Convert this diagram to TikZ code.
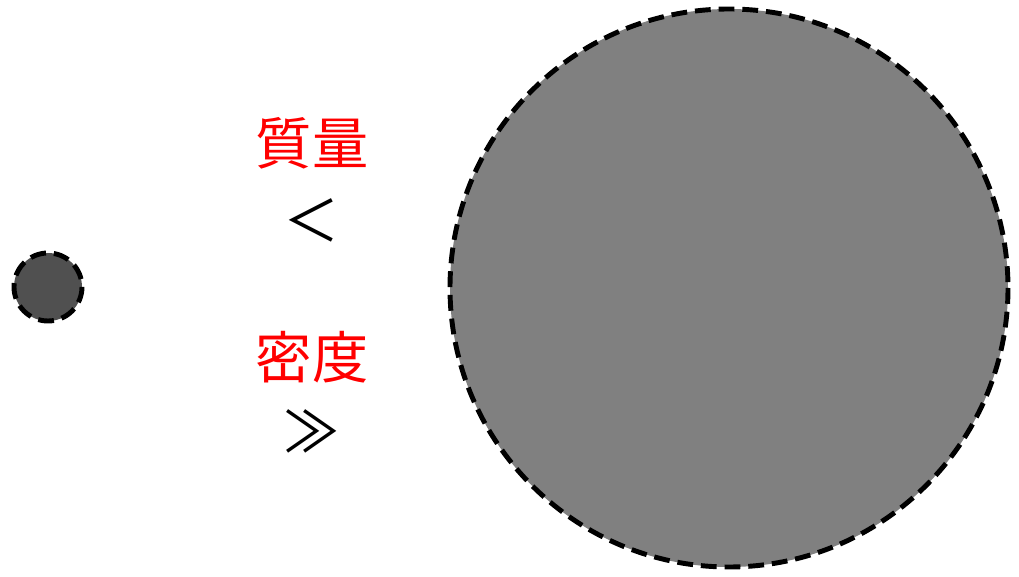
\documentclass[tikz,border=0pt]{standalone}
\usepackage{fontspec}
\newfontfamily\jpfont{Noto Sans CJK JP}
\usepackage{tikz}
\definecolor{smallgray}{RGB}{80,80,80}
\definecolor{biggray}{RGB}{128,128,128}

\begin{document}
\begin{tikzpicture}[x=0.02cm, y=-0.02cm,
    ball/.style={draw=black, line width=2.8pt, dash pattern=on 9pt off 4.5pt},
    word/.style={font=\jpfont\fontsize{32}{36}\selectfont, text=red, inner sep=0pt},
    rel/.style={font=\jpfont\fontsize{32}{36}\selectfont, text=black, inner sep=0pt}]
    \useasboundingbox (0,0) rectangle (1019,577);
    % small dense body and large light body
    \draw[ball, fill=smallgray] (48,287) circle (34);
    \draw[ball, fill=biggray] (729,288) circle (279);
    % comparison labels
    \node[word] (mass) at (312,143) {質量};
    \node[rel] (masslt) at (312,220) {＜};
    \node[word] (dens) at (312,357) {密度};
    \node[rel] (densgg) at (312,431) {≫};
\end{tikzpicture}
\end{document}
